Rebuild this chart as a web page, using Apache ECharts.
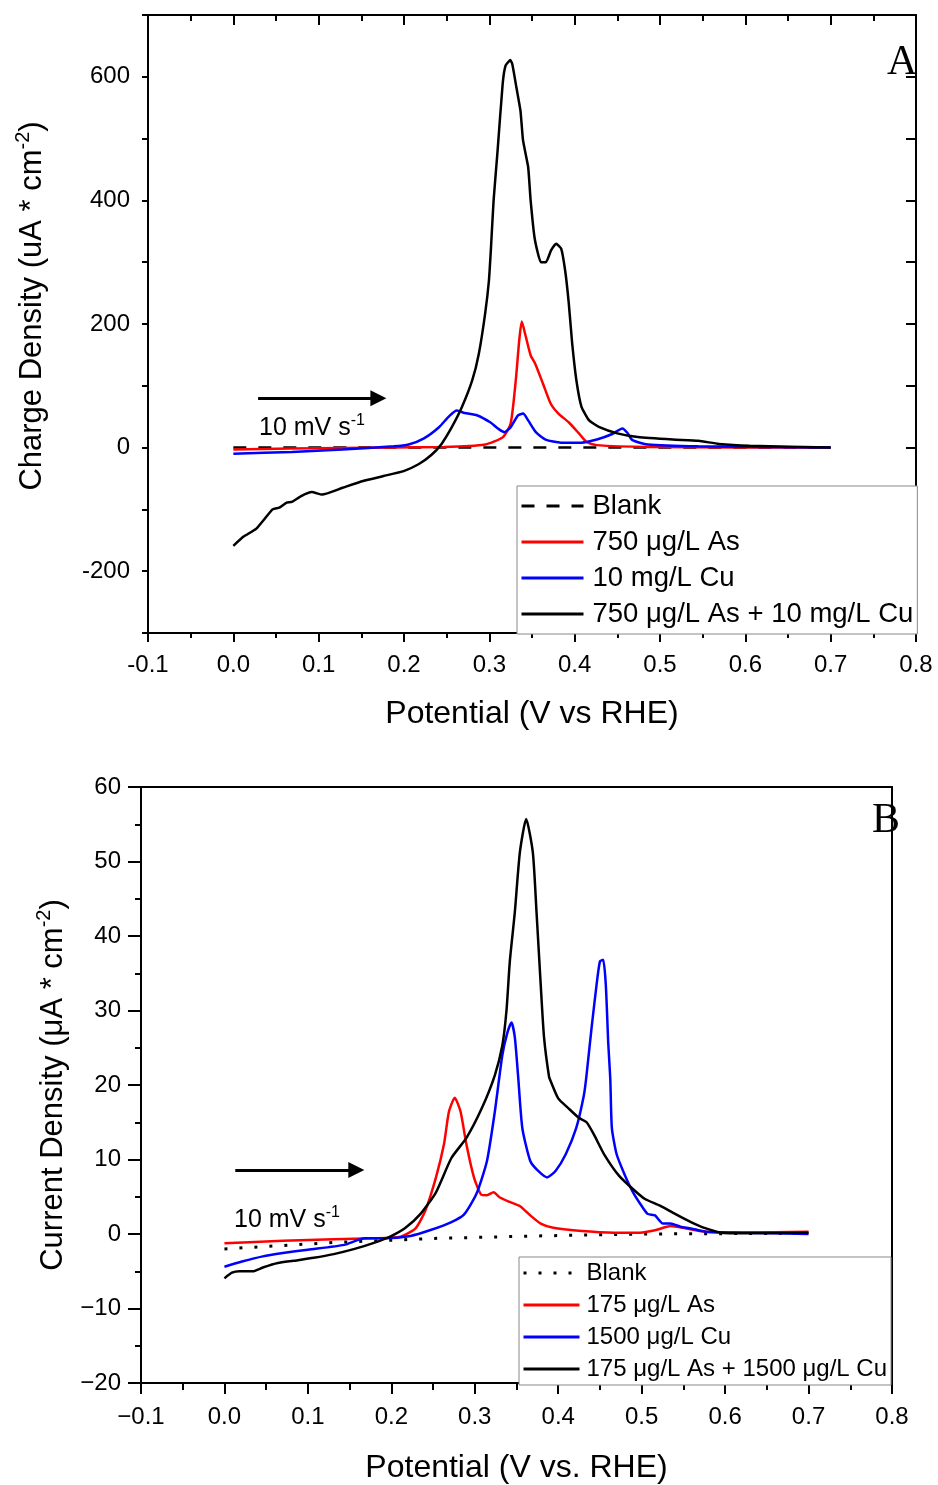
<!DOCTYPE html>
<html>
<head>
<meta charset="utf-8">
<script src="https://cdn.jsdelivr.net/npm/echarts@6/dist/echarts.min.js"></script>
<style>
html,body{margin:0;padding:0;background:#fff;}
#chart{width:938px;height:1485px;}
</style>
</head>
<body>
<div id="chart"></div>
<script>
// ---------- Panel A data (Potential V vs RHE, Charge density uA/cm2) ----------
const A_names = ['Blank', '750 μg/L As', '10 mg/L Cu', '750 μg/L As + 10 mg/L Cu'];
const A_blank = [[0, 0], [0.35, 0], [0.7, 0]];
const A_as = [[0,-3],[0.128,-0.5],[0.247,1],[0.295,5],[0.316,17],[0.325,39],[0.331,109],[0.335,173],[0.338,204],[0.3425,181],[0.3485,149],[0.354,135],[0.363,103],[0.372,71],[0.381,55],[0.393,41],[0.405,23],[0.414,9],[0.426,4],[0.4855,1],[0.7,0]];
const A_cu = [[0,-10],[0.0685,-7],[0.128,-3],[0.188,2],[0.2055,5],[0.2234,15],[0.241,33],[0.253,51],[0.262,60],[0.271,56],[0.286,52],[0.301,41],[0.31,31],[0.3175,25],[0.325,33],[0.3336,52],[0.3396,55],[0.3455,44],[0.3545,25],[0.366,13],[0.384,8],[0.408,8],[0.426,13],[0.444,22],[0.456,31],[0.4617,24],[0.4677,12],[0.4855,5],[0.545,2],[0.7,0]];
const A_mix = [[0,-159],[0.012,-144],[0.027,-131],[0.046,-100],[0.054,-97],[0.0625,-89],[0.0685,-88],[0.08,-78],[0.092,-72],[0.104,-76],[0.128,-65],[0.152,-54],[0.176,-46],[0.1996,-38],[0.217,-27],[0.232,-12],[0.244,6],[0.256,33],[0.268,66],[0.28,109],[0.2877,152],[0.295,216],[0.2995,270],[0.302,325],[0.305,400],[0.3097,481],[0.3156,588],[0.319,618],[0.3246,627],[0.327,620],[0.3317,583],[0.3365,545],[0.3395,497],[0.3455,454],[0.3484,400],[0.3532,338],[0.3604,300],[0.3663,300],[0.3723,319],[0.3783,330],[0.3842,322],[0.389,285],[0.393,235],[0.397,170],[0.402,109],[0.408,66],[0.417,44],[0.429,33],[0.45,23],[0.474,17],[0.515,13],[0.545,11],[0.569,6],[0.605,3],[0.7,0]];
const A_arrow = [[0.029, 80], [0.17, 80]];

// ---------- Panel B data (Potential V vs RHE, Current density uA/cm2) ----------
const B_names = ['Blank\u200b', '175 μg/L As', '1500 μg/L Cu', '175 μg/L As + 1500 μg/L Cu'];
const B_blank = [[0,-2.0],[0.13,-1.15],[0.25,-0.6],[0.375,-0.26],[0.5,0],[0.7,0.1]];
const B_as = [[0,-1.24],[0.07,-0.9],[0.131,-0.7],[0.18,-0.57],[0.211,-0.35],[0.229,0.75],[0.241,3.2],[0.2535,7.6],[0.263,12.0],[0.269,16.4],[0.276,18.3],[0.283,16.4],[0.29,12.0],[0.299,7.6],[0.3075,5.3],[0.3146,5.2],[0.3225,5.6],[0.33,4.9],[0.342,4.3],[0.354,3.75],[0.3665,2.5],[0.379,1.4],[0.394,0.84],[0.4246,0.44],[0.467,0.18],[0.498,0.18],[0.516,0.5],[0.5345,1.06],[0.553,0.75],[0.577,0.3],[0.62,0.2],[0.7,0.3]];
const B_cu = [[0,-4.4],[0.021,-3.7],[0.046,-3.0],[0.07,-2.56],[0.1,-2.1],[0.1436,-1.46],[0.168,-0.57],[0.192,-0.57],[0.223,-0.26],[0.247,0.53],[0.272,1.6],[0.287,2.6],[0.302,5.4],[0.3146,9.8],[0.324,16.4],[0.333,24],[0.339,27],[0.344,28.4],[0.348,26.4],[0.352,21.1],[0.357,14.2],[0.3665,9.8],[0.3757,8.5],[0.3867,7.6],[0.397,8.5],[0.409,10.7],[0.4215,14.2],[0.4307,18.6],[0.4337,21.1],[0.44,27.7],[0.446,33.5],[0.45,36.6],[0.4539,36.8],[0.457,33.5],[0.46,25.5],[0.4624,20.8],[0.4643,14.2],[0.47,10.7],[0.4795,8.0],[0.4887,5.8],[0.498,4.1],[0.507,2.7],[0.516,2.5],[0.5254,1.4],[0.5345,1.4],[0.5467,0.97],[0.559,0.75],[0.577,0.3],[0.62,0.18],[0.7,0]];
const B_mix = [[0,-5.96],[0.009,-5.2],[0.018,-5.0],[0.034,-5.0],[0.046,-4.5],[0.064,-3.9],[0.0825,-3.6],[0.107,-3.2],[0.131,-2.7],[0.156,-2.0],[0.18,-1.15],[0.1985,-0.35],[0.217,0.84],[0.235,2.7],[0.2535,5.6],[0.272,10.2],[0.29,12.9],[0.3085,16.9],[0.324,21.3],[0.333,25.3],[0.338,30],[0.342,36.6],[0.348,43.2],[0.354,51.2],[0.3616,55.7],[0.3696,51.2],[0.374,43.2],[0.379,33.5],[0.383,26.4],[0.389,21.1],[0.391,20.5],[0.4,18.2],[0.412,16.9],[0.4246,15.6],[0.434,15.0],[0.443,13.3],[0.455,10.7],[0.473,7.8],[0.4918,5.8],[0.504,4.7],[0.522,3.8],[0.54,2.7],[0.559,1.6],[0.577,0.75],[0.5956,0.18],[0.62,0.1],[0.7,0.18]];
const B_arrow = [[0.013, 8.6], [0.158, 8.6]];

// ---------- Axis ranges / ticks ----------
const xRange = {min: -0.1, max: 0.8, interval: 0.1};
const yRangeA = {min: -300, max: 700, interval: 100, labelStep: 200};
const yRangeB = {min: -20, max: 60, interval: 10};

const FONT = '"Liberation Sans", Arial, sans-serif';
const lineColor = '#000';

function fmtX(minusChar) {
  return function (v) {
    if (Math.abs(v) < 1e-9) return '0.0';
    const s = v.toFixed(1);
    return v < 0 ? minusChar + s.slice(1) : s;
  };
}

const chart = echarts.init(document.getElementById('chart'), null, {renderer: 'canvas'});

const baseX = (grid) => ({
  gridIndex: grid, type: 'value', min: xRange.min, max: xRange.max, interval: xRange.interval,
  splitLine: {show: false}, minorSplitLine: {show: false}
});
const baseAxisLine = {show: true, onZero: false, lineStyle: {color: lineColor, width: 2}};
const nameRich = {
  n: {fontSize: 31, fontFamily: FONT, color: '#000', lineHeight: 38},
  s: {fontSize: 20, fontFamily: FONT, color: '#000', verticalAlign: 'top', lineHeight: 20}
};
const noteRich = {
  n: {fontSize: 25, fontFamily: FONT, lineHeight: 30},
  s: {fontSize: 16, fontFamily: FONT, verticalAlign: 'top', lineHeight: 16}
};

const option = {
  animation: false,
  backgroundColor: '#fff',
  textStyle: {fontFamily: FONT},
  grid: [
    {left: 148, top: 15, width: 768, height: 618},
    {left: 141, top: 787, width: 751, height: 604}
  ],
  xAxis: [
    Object.assign(baseX(0), {
      position: 'bottom', axisLine: baseAxisLine,
      axisTick: {show: true, inside: false, length: 9, lineStyle: {color: lineColor, width: 2}},
      minorTick: {show: true, splitNumber: 2, length: 5, lineStyle: {color: lineColor, width: 2}},
      axisLabel: {fontSize: 24, color: '#000', margin: 20, fontFamily: FONT, formatter: fmtX('-')},
      name: 'Potential (V vs RHE)', nameLocation: 'middle', nameGap: 65,
      nameTextStyle: {fontSize: 32, color: '#000', fontFamily: FONT}
    }),
    Object.assign(baseX(0), {
      position: 'top', axisLine: baseAxisLine,
      axisTick: {show: true, inside: true, length: 10, lineStyle: {color: lineColor, width: 2}},
      minorTick: {show: true, splitNumber: 2, length: 6, lineStyle: {color: lineColor, width: 2}},
      axisLabel: {show: false}
    }),
    Object.assign(baseX(1), {
      position: 'bottom', axisLine: baseAxisLine,
      axisTick: {show: true, inside: false, length: 11, lineStyle: {color: lineColor, width: 2}},
      minorTick: {show: true, splitNumber: 2, length: 7, lineStyle: {color: lineColor, width: 2}},
      axisLabel: {fontSize: 24, color: '#000', margin: 22, fontFamily: FONT, formatter: fmtX('\u2212')},
      name: 'Potential (V vs. RHE)', nameLocation: 'middle', nameGap: 69,
      nameTextStyle: {fontSize: 32, color: '#000', fontFamily: FONT}
    }),
    Object.assign(baseX(1), {
      position: 'top', axisLine: baseAxisLine,
      axisTick: {show: false}, axisLabel: {show: false}
    })
  ],
  yAxis: [
    {
      gridIndex: 0, type: 'value', position: 'left',
      min: yRangeA.min, max: yRangeA.max, interval: yRangeA.interval,
      splitLine: {show: false}, axisLine: baseAxisLine,
      axisTick: {show: true, inside: false, length: 6, lineStyle: {color: lineColor, width: 2}},
      axisLabel: {fontSize: 24, color: '#000', margin: 18, fontFamily: FONT,
        formatter: v => (Math.round(v) % yRangeA.labelStep === 0 ? String(Math.round(v)) : '')},
      name: '{n|Charge Density (uA * cm}{s|-2}{n|)}', nameLocation: 'middle', nameGap: 97,
      nameTextStyle: {color: '#000', padding: [0, 0, 0, 36], rich: nameRich}
    },
    {
      gridIndex: 0, type: 'value', position: 'right',
      min: yRangeA.min, max: yRangeA.max, interval: yRangeA.interval,
      splitLine: {show: false}, axisLine: baseAxisLine,
      axisTick: {show: true, inside: true, length: 10, lineStyle: {color: lineColor, width: 2}},
      axisLabel: {show: false}
    },
    {
      gridIndex: 1, type: 'value', position: 'left',
      min: yRangeB.min, max: yRangeB.max, interval: yRangeB.interval,
      splitLine: {show: false}, axisLine: baseAxisLine,
      axisTick: {show: true, inside: false, length: 13, lineStyle: {color: lineColor, width: 2}},
      minorTick: {show: true, splitNumber: 2, length: 6, lineStyle: {color: lineColor, width: 2}},
      minorSplitLine: {show: false},
      axisLabel: {fontSize: 24, color: '#000', margin: 20, fontFamily: FONT,
        formatter: v => (v < 0 ? '\u2212' + Math.abs(v) : String(v))},
      name: '{n|Current Density (μA * cm}{s|-2}{n|)}', nameLocation: 'middle', nameGap: 69,
      nameTextStyle: {color: '#000', rich: nameRich}
    },
    {
      gridIndex: 1, type: 'value', position: 'right',
      min: yRangeB.min, max: yRangeB.max, interval: yRangeB.interval,
      splitLine: {show: false}, axisLine: baseAxisLine,
      axisTick: {show: false}, axisLabel: {show: false}
    }
  ],
  legend: [
    {
      left: 517, top: 486, orient: 'vertical', selectedMode: false,
      itemWidth: 62, itemHeight: 28, itemGap: 8, padding: [6, 4, 6, 3],
      borderColor: '#888', borderWidth: 1, backgroundColor: '#fff',
      itemStyle: {opacity: 0}, lineStyle: {width: 3},
      textStyle: {fontSize: 27.5, color: '#000', fontFamily: FONT, padding: [0, 0, 0, 4]},
      data: A_names
    },
    {
      left: 519, top: 1257, orient: 'vertical', selectedMode: false,
      itemWidth: 56, itemHeight: 25, itemGap: 8, padding: [4, 4, 4, 3],
      borderColor: '#888', borderWidth: 1, backgroundColor: '#fff',
      itemStyle: {opacity: 0}, lineStyle: {width: 3},
      textStyle: {fontSize: 24, color: '#000', fontFamily: FONT, padding: [0, 0, 0, 2]},
      data: B_names
    }
  ],
  series: [
    {name: A_names[0], type: 'line', xAxisIndex: 0, yAxisIndex: 0, data: A_blank, symbol: 'none',
     lineStyle: {color: '#000', width: 2.5, type: [13, 12]}, itemStyle: {color: '#000'},
     markLine: {silent: true, symbol: ['none', 'triangle'], symbolSize: 16, animation: false,
       lineStyle: {type: 'solid', color: '#000', width: 3}, label: {show: false},
       data: [[{coord: A_arrow[0]}, {coord: A_arrow[1]}]]}},
    {name: A_names[1], type: 'line', xAxisIndex: 0, yAxisIndex: 0, data: A_as, symbol: 'none', smooth: 0.2,
     lineStyle: {color: '#ff0000', width: 2.5}, itemStyle: {color: '#ff0000'}},
    {name: A_names[2], type: 'line', xAxisIndex: 0, yAxisIndex: 0, data: A_cu, symbol: 'none', smooth: 0.2,
     lineStyle: {color: '#0000ff', width: 2.5}, itemStyle: {color: '#0000ff'}},
    {name: A_names[3], type: 'line', xAxisIndex: 0, yAxisIndex: 0, data: A_mix, symbol: 'none', smooth: 0.15,
     lineStyle: {color: '#000', width: 2.5}, itemStyle: {color: '#000'}},

    {name: B_names[0], type: 'line', xAxisIndex: 2, yAxisIndex: 2, data: B_blank, symbol: 'none',
     lineStyle: {color: '#000', width: 3, type: [3, 12]}, itemStyle: {color: '#000'},
     markLine: {silent: true, symbol: ['none', 'triangle'], symbolSize: 16, animation: false,
       lineStyle: {type: 'solid', color: '#000', width: 3}, label: {show: false},
       data: [[{coord: B_arrow[0]}, {coord: B_arrow[1]}]]}},
    {name: B_names[1], type: 'line', xAxisIndex: 2, yAxisIndex: 2, data: B_as, symbol: 'none', smooth: 0.2,
     lineStyle: {color: '#ff0000', width: 2.5}, itemStyle: {color: '#ff0000'}},
    {name: B_names[2], type: 'line', xAxisIndex: 2, yAxisIndex: 2, data: B_cu, symbol: 'none', smooth: 0.2,
     lineStyle: {color: '#0000ff', width: 2.5}, itemStyle: {color: '#0000ff'}},
    {name: B_names[3], type: 'line', xAxisIndex: 2, yAxisIndex: 2, data: B_mix, symbol: 'none', smooth: 0.2,
     lineStyle: {color: '#000', width: 2.5}, itemStyle: {color: '#000'}}
  ],
  graphic: [
    {type: 'text', left: 259, top: 413, z: 10,
     style: {text: '{n|10 mV s}{s|-1}', fill: '#000', rich: noteRich}},
    {type: 'text', left: 234, top: 1205, z: 10,
     style: {text: '{n|10 mV s}{s|-1}', fill: '#000', rich: noteRich}},
    {type: 'text', left: 887, top: 42, z: 10,
     style: {text: 'A', fill: '#000', font: '42px "Liberation Serif", "Times New Roman", serif'}},
    {type: 'text', left: 872, top: 800, z: 10,
     style: {text: 'B', fill: '#000', font: '42px "Liberation Serif", "Times New Roman", serif'}}
  ]
};
chart.setOption(option);
</script>
</body>
</html>
